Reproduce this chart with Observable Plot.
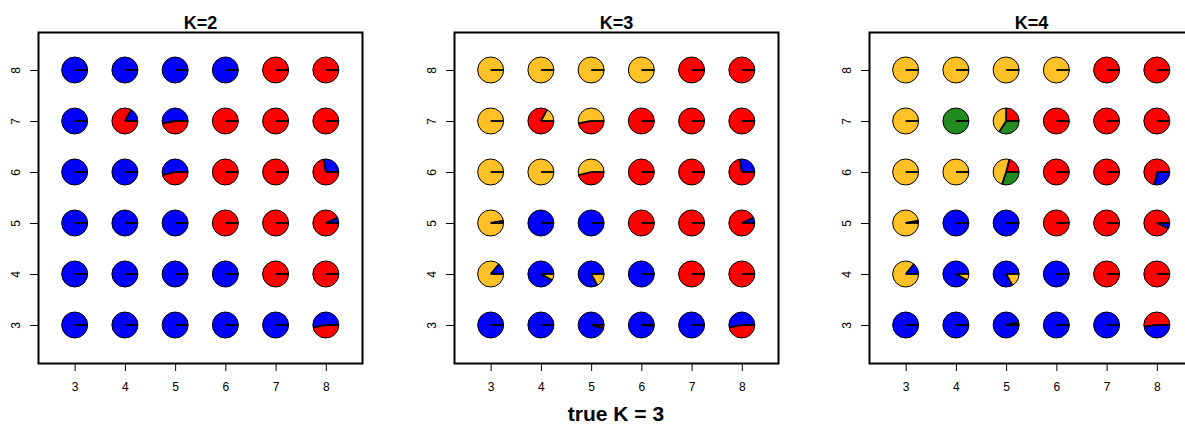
<!DOCTYPE html>
<html><head><meta charset="utf-8">
<script src="https://cdn.jsdelivr.net/npm/d3@7"></script>
<script src="https://cdn.jsdelivr.net/npm/@observablehq/plot@0.6"></script>
<style>
html,body{margin:0;padding:0;background:#fff;}
#wrap{position:relative;width:1185px;height:425px;overflow:hidden;background:#fff;font-family:"Liberation Sans",Arial,Helvetica,sans-serif;}
.panel{position:absolute;top:0;}
#caption{position:absolute;left:0;width:1232px;top:403px;text-align:center;font-weight:bold;font-size:21px;line-height:21px;color:#000;}
</style></head><body>
<div id="wrap"><div id="caption">true K = 3</div></div>
<script>
// grid of settings
const gridX = [3, 4, 5, 6, 7, 8];
const gridY = [8, 7, 6, 5, 4, 3]; // rows listed top to bottom
const panelTitles = ["K=2", "K=3", "K=4"];

// cluster colours per panel (slice order, counter-clockwise from 3 o'clock)
const colorsK2 = ["#0000FF", "#FF0000"];
const colorsK3 = ["#0000FF", "#FFC125", "#FF0000"];
const colorsK4 = ["#FF0000", "#0000FF", "#FFC125", "#228B22"];

// membership proportions: rows y=8..3, columns x=3..8
const propsK2 = [
  [[1,0],[1,0],[1,0],[1,0],[0,1],[0,1]],
  [[1,0],[0.17,0.83],[0.53,0.47],[0,1],[0,1],[0,1]],
  [[1,0],[1,0],[0.54,0.46],[0,1],[0,1],[0.28,0.72]],
  [[1,0],[1,0],[1,0],[0,1],[0,1],[0.07,0.93]],
  [[1,0],[1,0],[1,0],[1,0],[0,1],[0,1]],
  [[1,0],[1,0],[1,0],[1,0],[1,0],[0.53,0.47]]
];
const propsK3 = [
  [[0,1,0],[0,1,0],[0,1,0],[0,1,0],[0,0,1],[0,0,1]],
  [[0,1,0],[0,0.17,0.83],[0,0.53,0.47],[0,0,1],[0,0,1],[0,0,1]],
  [[0,1,0],[0,1,0],[0,0.54,0.46],[0,0,1],[0,0,1],[0.28,0,0.72]],
  [[0.03,0.97,0],[1,0,0],[1,0,0],[0,0,1],[0,0,1],[0.07,0,0.93]],
  [[0.14,0.86,0],[0.92,0.08,0],[0.83,0.17,0],[1,0,0],[0,0,1],[0,0,1]],
  [[1,0,0],[1,0,0],[0.96,0,0.04],[0.99,0,0.01],[1,0,0],[0.53,0,0.47]]
];
const propsK4 = [
  [[0,0,1,0],[0,0,1,0],[0,0,1,0],[0,0,1,0],[1,0,0,0],[1,0,0,0]],
  [[0,0,1,0],[0,0,0,1],[0.25,0,0.41,0.34],[1,0,0,0],[1,0,0,0],[1,0,0,0]],
  [[0,0,1,0],[0,0,1,0],[0.21,0,0.49,0.30],[1,0,0,0],[1,0,0,0],[0.72,0.28,0,0]],
  [[0,0.03,0.97,0],[0,1,0,0],[0,1,0,0],[1,0,0,0],[1,0,0,0],[0.93,0.07,0,0]],
  [[0,0.14,0.86,0],[0,0.92,0.08,0],[0,0.83,0.17,0],[0,1,0,0],[1,0,0,0],[1,0,0,0]],
  [[0,1,0,0],[0,1,0,0],[0.03,0.97,0,0],[0,1,0,0],[0,1,0,0],[0.52,0.48,0,0]]
];

const FONT = '"Liberation Sans", Arial, Helvetica, sans-serif';

function toCells(props) {
  const cells = [];
  props.forEach((row, r) => row.forEach((p, c) => cells.push({x: gridX[c], y: gridY[r], props: p})));
  return cells;
}

function pieRender(cells, colors, radius) {
  return (index, scales, values) => {
    const g = d3.create("svg:g");
    for (const i of index) {
      const cx = values.x[i], cy = values.y[i];
      const props = cells[i].props;
      let a0 = 0;
      const bounds = [];
      props.forEach((p, k) => {
        if (p <= 0) return;
        bounds.push(a0);
        if (p >= 0.9999) {
          g.append("circle").attr("cx", cx).attr("cy", cy).attr("r", radius).attr("fill", colors[k]);
        } else {
          const a1 = a0 + p * 2 * Math.PI;
          const x0 = cx + radius * Math.cos(a0), y0 = cy - radius * Math.sin(a0);
          const x1 = cx + radius * Math.cos(a1), y1 = cy - radius * Math.sin(a1);
          g.append("path")
            .attr("d", `M${cx},${cy}L${x0},${y0}A${radius},${radius} 0 ${p > 0.5 ? 1 : 0} 0 ${x1},${y1}Z`)
            .attr("fill", colors[k]);
        }
        a0 += p * 2 * Math.PI;
      });
      g.append("circle").attr("cx", cx).attr("cy", cy).attr("r", radius)
        .attr("fill", "none").attr("stroke", "#000").attr("stroke-width", 1);
      for (const a of bounds) {
        g.append("line").attr("x1", cx).attr("y1", cy)
          .attr("x2", cx + radius * Math.cos(a)).attr("y2", cy - radius * Math.sin(a))
          .attr("stroke", "#000").attr("stroke-width", 1.8);
      }
    }
    return g.node();
  };
}

function makePanel(title, props, colors, left) {
  const cells = toCells(props);
  const svg = Plot.plot({
    width: 415, height: 400,
    marginLeft: 38, marginRight: 53, marginTop: 32, marginBottom: 37,
    x: {domain: [2.27, 8.72], axis: null},
    y: {domain: [2.255, 8.745], axis: null},
    style: {fontFamily: FONT, fontSize: "12px", background: "white", color: "black", overflow: "visible"},
    marks: [
      Plot.axisX(gridX, {tickSize: 8, tickPadding: 11, tickFormat: d => String(d), label: null}),
      Plot.axisY(gridY, {tickSize: 8, tickFormat: () => "", label: null}),
      Plot.text(gridY, {y: d => d, text: d => String(d), frameAnchor: "left", dx: -22, rotate: -90,
        textAnchor: "middle", lineAnchor: "middle", fontSize: 12, fill: "black"}),
      Plot.dot(cells, {x: "x", y: "y", r: 13, render: pieRender(cells, colors, 13)}),
      Plot.frame({stroke: "black", strokeWidth: 2}),
      Plot.text([title], {text: d => d, frameAnchor: "top", dy: -4, lineAnchor: "bottom",
        fontWeight: "bold", fontSize: 18, fill: "black"})
    ]
  });
  svg.classList.add("panel");
  svg.style.left = left + "px";
  document.getElementById("wrap").appendChild(svg);
}

makePanel(panelTitles[0], propsK2, colorsK2, 0);
makePanel(panelTitles[1], propsK3, colorsK3, 415.5);
makePanel(panelTitles[2], propsK4, colorsK4, 831);
</script>
</body></html>
